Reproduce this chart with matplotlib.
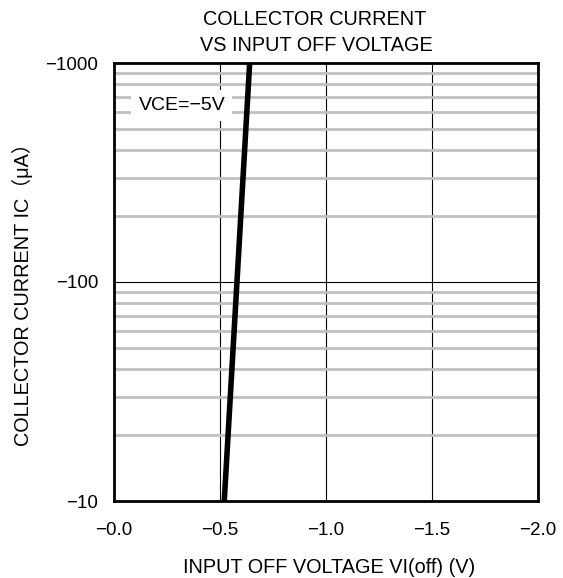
import matplotlib
matplotlib.use("Agg")
import matplotlib.pyplot as plt
import numpy as np
from matplotlib.ticker import FixedLocator, NullFormatter

plt.rcParams['font.family'] = ['Liberation Sans', 'Noto Sans CJK JP', 'DejaVu Sans']

# Data
vin_off = [0.52, 0.64]          # |VI(off)| in V
ic = [10, 1000]                 # |IC| in uA
x_ticks = [0.0, 0.5, 1.0, 1.5, 2.0]
x_labels = ["−0.0", "−0.5", "−1.0", "−1.5", "−2.0"]
y_ticks = [10, 100, 1000]
y_labels = ["−10", "−100", "−1000"]

W, H = 563, 578
FS = 13.5
LFS = 14.3
fig = plt.figure(figsize=(W / 100, H / 100), dpi=100)
ax = fig.add_axes([114 / W, 77 / H, 424 / W, 438 / H])

ax.set_xlim(0, 2.0)
ax.set_yscale('log')
ax.set_ylim(10, 1000)

minor = [m * d for d in (10, 100) for m in range(2, 10)]
ax.yaxis.set_minor_locator(FixedLocator(minor))
ax.yaxis.set_minor_formatter(NullFormatter())
ax.set_yticks(y_ticks)
ax.set_yticklabels(y_labels)
ax.set_xticks(x_ticks)
ax.set_xticklabels(x_labels)

ax.grid(which='minor', axis='y', color='#c0c0c0', linewidth=2.0, zorder=0)
ax.grid(which='major', axis='y', color='black', linewidth=0.8, zorder=1)
ax.grid(which='major', axis='x', color='black', linewidth=0.8, zorder=1)

ax.tick_params(which='both', length=0, labelsize=FS)
ax.tick_params(axis='y', pad=11.5)
ax.tick_params(axis='x', pad=15)
for s in ax.spines.values():
    s.set_linewidth(2.0)
    s.set_zorder(5)

ax.plot(vin_off, ic, color='black', linewidth=4, zorder=4, solid_capstyle='butt')

ax.text(0.32, 640, "VCE=−5V", fontsize=14, ha='center', va='center', zorder=3,
        bbox=dict(facecolor='white', edgecolor='none', pad=5))

fig.text(315 / W, 1 - 25 / H, "COLLECTOR CURRENT", fontsize=LFS, ha='center', va='baseline')
fig.text(316 / W, 1 - 51 / H, "VS INPUT OFF VOLTAGE", fontsize=LFS, ha='center', va='baseline')
fig.text(329 / W, 1 - 573 / H, "INPUT OFF VOLTAGE VI(off) (V)", fontsize=LFS, ha='center', va='baseline')
fig.text(22.5 / W, 1 - 290 / H, "COLLECTOR CURRENT IC（μA）", fontsize=LFS, ha='center', va='center',
         rotation=90)

fig.savefig("out.png", dpi=100)
